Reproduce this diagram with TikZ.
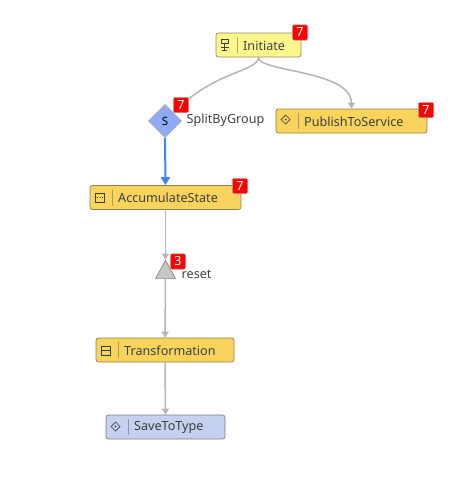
\documentclass[tikz,border=0pt]{standalone}
\usepackage{fontspec}
\setmainfont{Noto Sans}
\usetikzlibrary{shapes.geometric,arrows.meta}
\definecolor{startfill}{HTML}{FBF78C}
\definecolor{taskfill}{HTML}{F9D45C}
\definecolor{sinkfill}{HTML}{C5D1EE}
\definecolor{splitfill}{HTML}{8FAAF6}
\definecolor{linegray}{HTML}{B4B4B4}
\definecolor{edgeblue}{HTML}{3F86F2}
\definecolor{textgray}{HTML}{3C4043}
\tikzset{
    taskbox/.style={draw=#1!60!black!70!gray, fill=#1, rounded corners=2.5pt, line width=0.7pt, minimum height=24pt, inner sep=0pt},
    tasktext/.style={anchor=west, inner sep=0pt, font=\fontsize{12.6}{14}\selectfont, text=textgray},
    sepline/.style={draw=black!35!gray, opacity=0.45, line width=0.8pt},
    iconline/.style={draw=textgray, line width=0.7pt},
    flow/.style={draw=linegray, line width=1.5pt, -{Triangle[length=6pt,width=7pt]}},
    plainflow/.style={draw=linegray, line width=1.5pt},
    badge/.style={draw=black!30, fill=red, rounded corners=2pt, line width=0.6pt, minimum size=15.5pt, inner sep=0pt, text=white, font=\fontsize{12.5}{14}\selectfont\bfseries}
}
\begin{document}
\begin{tikzpicture}[x=1pt,y=-1pt]
    \useasboundingbox (0,0) rectangle (451,479);
    % Boxes
    \node[taskbox=startfill, minimum width=85pt] (initiate) at (258.5,45) {};
    \node[taskbox=taskfill, minimum width=151pt] (publish) at (351.5,121) {};
    \node[taskbox=taskfill, minimum width=151pt] (accumulate) at (165.5,197.5) {};
    \node[taskbox=taskfill, minimum width=138pt] (transform) at (165,350) {};
    \node[taskbox=sinkfill, minimum width=119pt] (save) at (165.5,427) {};
    % Split and reset
    \node[diamond, draw=black!35, fill=splitfill, line width=0.6pt, minimum size=33pt, inner sep=0pt, font=\fontsize{11.5}{13}\selectfont\bfseries] (split) at (165,121) {S};
    \node[isosceles triangle, shape border rotate=90, isosceles triangle stretches, draw=gray, fill=black!22, line width=0.6pt, minimum width=20pt, minimum height=18pt, inner sep=0pt] (reset) at (165.5,272.5) {};
    % Connectors
    \draw[plainflow] (initiate.south) .. controls (258,72) and (215,70) .. (split.north east);
    \draw[flow] (initiate.south) .. controls (258,72) and (351,70) .. (publish.north);
    \draw[draw=edgeblue, line width=2pt, -{Triangle[length=8pt,width=9pt]}] (split.south) -- (accumulate.north);
    \draw[flow] (accumulate.south) -- (reset.apex);
    \draw[flow] (reset.lower side) -- (transform.north);
    \draw[flow] (transform.south) -- (save.north);
    % Box texts
    \node[tasktext] (initiatetext) at (243,45.5) {Initiate};
    \node[tasktext] (publishtext) at (304,121.5) {PublishToService};
    \node[tasktext] (accumulatetext) at (118,197.5) {AccumulateState};
    \node[tasktext] (transformtext) at (124,350.5) {Transformation};
    \node[tasktext] (savetext) at (134,427) {SaveToType};
    \node[tasktext] (splittext) at (186.5,120.5) {SplitByGroup};
    \node[tasktext] (resettext) at (181.5,274.5) {reset};
    % Separators
    \draw[sepline] (237,37) -- (237,53);
    \draw[sepline] (298,113) -- (298,129);
    \draw[sepline] (112,190) -- (112,206);
    \draw[sepline] (118,342) -- (118,358);
    \draw[sepline] (128,419) -- (128,435);
    % Icons
    \draw[iconline] (221,39) rectangle (228,43);
    \draw[iconline] (224.5,43) -- (224.5,47) (220.5,47) -- (228.5,47) (222,50) -- (227,50) (224.5,47) -- (224.5,50);
    \draw[iconline] (285.5,115) -- (290,119.5) -- (285.5,124) -- (281,119.5) -- cycle;
    \fill[textgray] (285.5,119.5) circle (1pt);
    \draw[iconline] (95,193) rectangle (104,202);
    \draw[iconline, dotted] (97,197.5) -- (102.5,197.5);
    \draw[iconline] (101,346) rectangle (110,355);
    \draw[iconline] (101,350.5) -- (110,350.5);
    \draw[iconline] (115.5,422) -- (120,426.5) -- (115.5,431) -- (111,426.5) -- cycle;
    \fill[textgray] (115.5,426.5) circle (1pt);
    % Badges
    \node[badge] (initiatebadge) at (300,32.5) {7};
    \node[badge] (splitbadge) at (181,105) {7};
    \node[badge] (publishbadge) at (426,110) {7};
    \node[badge] (accumulatebadge) at (240,186) {7};
    \node[badge] (resetbadge) at (178,261.5) {3};
\end{tikzpicture}
\end{document}
